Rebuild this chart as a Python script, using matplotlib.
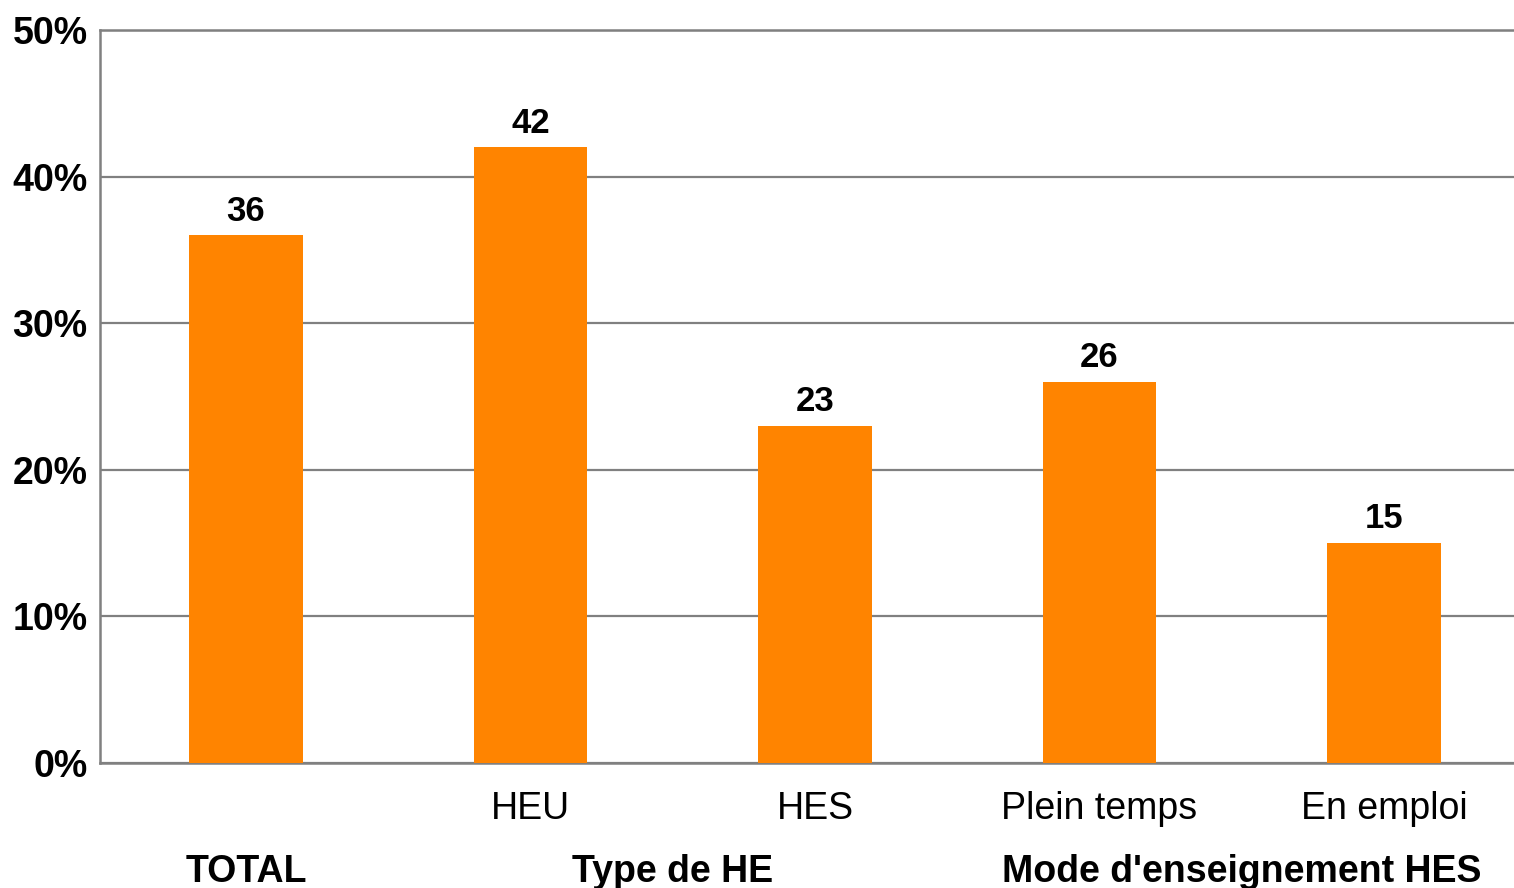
import matplotlib.pyplot as plt
import numpy as np

plt.rcParams['font.family'] = ['Liberation Sans', 'DejaVu Sans']

categories = ['', 'HEU', 'HES', 'Plein temps', 'En emploi']
values = [36, 42, 23, 26, 15]
groups = ['TOTAL', 'Type de HE', "Mode d'enseignement HES"]
group_pos = [0, 1.5, 3.5]
yticks = [0, 10, 20, 30, 40, 50]

fig = plt.figure(figsize=(15.14, 8.88), dpi=100)
ax = fig.add_axes([100 / 1514, 125 / 888, 1414 / 1514, 733 / 888])

x = np.arange(len(values))
ax.bar(x, values, width=0.4, color='#FF8400', zorder=3)

for xi, v in zip(x, values):
    ax.text(xi, v + 1.0, str(v), ha='center', va='baseline',
            fontsize=25, fontweight='bold')

ax.set_xlim(-0.513, 4.457)
ax.set_ylim(0, 50)
ax.set_yticks(yticks)
ax.set_yticklabels([f'{t}%' for t in yticks], fontsize=27, fontweight='bold')
ax.yaxis.grid(True, color='#808080', linewidth=1.6, zorder=0)
ax.tick_params(axis='y', length=0, pad=9)

ax.set_xticks(x)
ax.set_xticklabels(categories, fontsize=27)
ax.tick_params(axis='x', length=0, pad=20)

for pos, g in zip(group_pos, groups):
    ax.text(pos, -0.162, g, transform=ax.get_xaxis_transform(), ha='center',
            va='baseline', fontsize=27, fontweight='bold')

for s in ['left', 'bottom', 'top']:
    ax.spines[s].set_color('#808080')
    ax.spines[s].set_linewidth(1.8)
ax.spines['right'].set_visible(False)

fig.savefig('out.png', dpi=100)
